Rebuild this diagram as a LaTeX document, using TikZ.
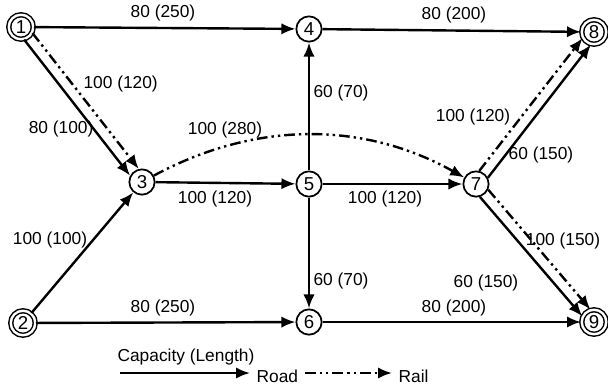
\documentclass[tikz,border=0pt]{standalone}
\usepackage{fontspec}
\setmainfont{Liberation Sans}
\usetikzlibrary{arrows.meta}
\begin{document}
\begin{tikzpicture}[x=0.75pt,y=-0.75pt,
  every node/.style={font=\fontsize{13}{15}\selectfont},
  snode/.style={circle,draw,line width=1.3pt,minimum size=19pt,inner sep=0pt,fill=white,font=\fontsize{14}{15}\selectfont},
  dnode/.style={circle,draw,line width=1.1pt,double,double distance=1.8pt,minimum size=18.4pt,inner sep=0pt,font=\fontsize{14}{15}\selectfont},
  road/.style={line width=1.8pt,-{Latex[length=10.5pt,width=8.5pt]}},
  rail/.style={line width=1.8pt,dash pattern=on 8pt off 3pt on 1.8pt off 3pt on 1.8pt off 3pt,-{Latex[length=10.5pt,width=8.5pt]}},
  lab/.style={inner sep=1pt}]
\useasboundingbox (0,0) rectangle (608,387);
% nodes
\node[dnode] (n1) at (21,27) {1};
\node[dnode] (n2) at (23,323) {2};
\node[snode] (n3) at (142,182) {3};
\node[snode] (n4) at (309,29) {4};
\node[snode] (n5) at (309,184) {5};
\node[snode] (n6) at (309,322) {6};
\node[snode] (n7) at (476,184) {7};
\node[dnode] (n8) at (594,32) {8};
\node[dnode] (n9) at (594,322) {9};
% roads
\draw[road] (n1) -- (n4);
\draw[road] (n4) -- (n8);
\draw[road] (n1.-76) -- (n3.152);
\draw[road] (n2) -- (n3);
\draw[road] (n3) -- (n5);
\draw[road] (n5) -- (n4);
\draw[road] (n5) -- (n6);
\draw[road] (n5) -- (n7);
\draw[road] (n7.28) -- (n8.256);
\draw[road] (n7.-73.5) -- (n9.154.5);
\draw[road] (n2) -- (n6);
\draw[road] (n6) -- (n9);
% rails
\draw[rail] (n1.-28) -- (n3.104);
\draw[rail] (n3) .. controls (255,121) and (363,121) .. (n7);
\draw[rail] (n7.76) -- (n8.208);
\draw[rail] (n7.-25.5) -- (n9.106.5);
% labels
\node[lab] (l14) at (163,13) {80 (250)};
\node[lab] (l48) at (454,15) {80 (200)};
\node[lab,anchor=west] (l13r) at (82,84) {100 (120)};
\node[lab,anchor=east] (l13) at (95,129) {80 (100)};
\node[lab] (l37) at (225,130) {100 (280)};
\node[lab,anchor=west] (l54) at (312,93) {60 (70)};
\node[lab] (l78r) at (473,117) {100 (120)};
\node[lab] (l78) at (541,155) {60 (150)};
\node[lab] (l35) at (215,199) {100 (120)};
\node[lab] (l57) at (385,199) {100 (120)};
\node[lab] (l23) at (50,240) {100 (100)};
\node[lab] (l79r) at (563,241) {100 (150)};
\node[lab,anchor=west] (l56) at (312,281) {60 (70)};
\node[lab] (l79) at (486,283) {60 (150)};
\node[lab] (l26) at (163,308) {80 (250)};
\node[lab] (l69) at (454,308) {80 (200)};
% legend
\node[lab] (cap) at (186,357) {Capacity (Length)};
\coordinate (ra) at (120,373);
\coordinate (rb) at (250,373);
\draw[road] (ra) -- (rb);
\node[lab,anchor=west] (road) at (255,376) {Road};
\coordinate (la) at (305,373);
\coordinate (lb) at (392,373);
\draw[rail] (la) -- (lb);
\node[lab,anchor=west] (rail) at (397,376) {Rail};
\end{tikzpicture}
\end{document}
